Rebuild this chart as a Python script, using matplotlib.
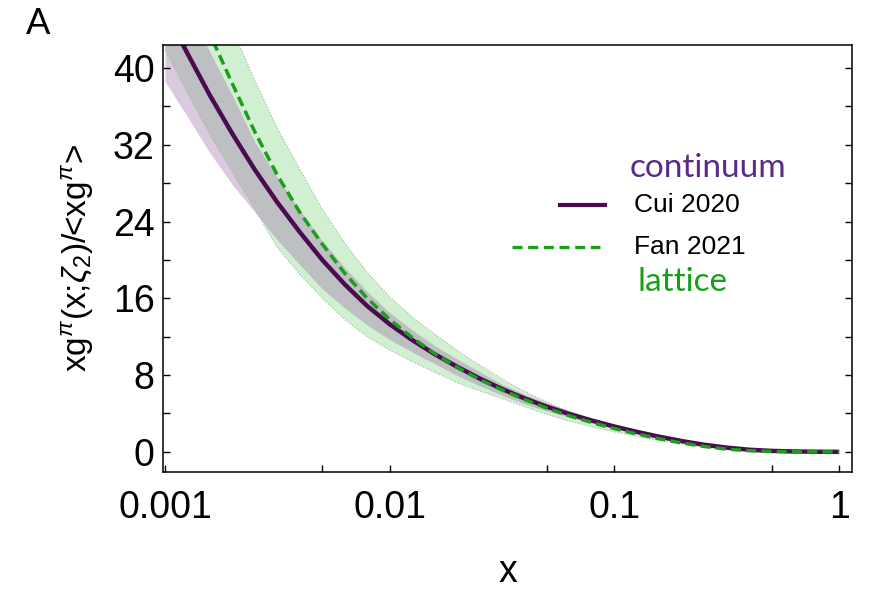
import numpy as np
import matplotlib
matplotlib.use("Agg")
import matplotlib.pyplot as plt
from matplotlib.lines import Line2D
from matplotlib.ticker import FixedLocator, NullFormatter

plt.rcParams['font.family'] = ['Liberation Sans', 'DejaVu Sans']
plt.rcParams['mathtext.fontset'] = 'custom'
plt.rcParams['mathtext.rm'] = 'Liberation Sans'
plt.rcParams['mathtext.it'] = 'Liberation Sans:italic'

# momentum fraction grid (tenth-decade steps)
x = [0.001, 0.00126, 0.00158, 0.002, 0.00251, 0.00316, 0.00398, 0.00501,
     0.00631, 0.00794, 0.01, 0.0126, 0.0158, 0.02, 0.0251, 0.0316, 0.0398,
     0.0501, 0.0631, 0.0794, 0.1, 0.126, 0.158, 0.2, 0.251, 0.316, 0.398,
     0.501, 0.631, 0.794, 1.0]

# continuum result (Cui 2020): central value and band
cui = [46.0, 41.5, 37.2, 33.1, 29.4, 26.0, 22.9, 20.0, 17.45, 15.2,
       13.3, 11.65, 10.2, 8.85, 7.65, 6.55, 5.57, 4.7, 3.94, 3.26,
       2.64, 2.08, 1.58, 1.12, 0.74, 0.44, 0.22, 0.10, 0.04, 0.01, 0.0]
cui_lo = [38.6, 34.9, 31.2, 27.8, 25.0, 22.1, 19.5, 17.0, 15.0, 13.2,
          11.7, 10.4, 9.2, 7.95, 6.9, 5.9, 5.0, 4.25, 3.6, 3.0,
          2.43, 1.91, 1.45, 1.03, 0.68, 0.4, 0.2, 0.09, 0.035, 0.008, 0.0]
cui_hi = [51.5, 46.5, 41.7, 37.1, 32.3, 28.6, 25.2, 22.0, 19.2, 16.7,
          14.5, 12.7, 11.1, 9.65, 8.35, 7.05, 6.0, 5.1, 4.25, 3.5,
          2.85, 2.23, 1.69, 1.2, 0.79, 0.47, 0.235, 0.107, 0.043, 0.011, 0.0]

# lattice result (Fan 2021): central value and band
fan = [55.1, 49.2, 43.6, 38.3, 33.35, 28.85, 24.95, 21.65, 18.6, 16.0,
       13.8, 11.9, 10.25, 8.8, 7.55, 6.45, 5.45, 4.55, 3.75, 3.05,
       2.42, 1.86, 1.36, 0.92, 0.56, 0.28, 0.12, 0.04, 0.01, 0.0, 0.0]
fan_lo = [41.9, 37.4, 33.1, 29.1, 25.3, 21.3, 18.5, 16.0, 13.8, 12.0,
          10.6, 9.4, 8.3, 7.2, 6.35, 5.55, 4.7, 3.9, 3.2, 2.6,
          2.08, 1.64, 1.2, 0.81, 0.49, 0.25, 0.105, 0.035, 0.009, 0.0, 0.0]
fan_hi = [63.4, 56.6, 50.1, 44.0, 38.7, 33.75, 29.45, 25.3, 21.75, 18.7,
          16.15, 14.05, 12.3, 10.55, 9.05, 7.6, 6.3, 5.2, 4.2, 3.4,
          2.7, 2.05, 1.5, 1.01, 0.62, 0.31, 0.13, 0.044, 0.011, 0.0, 0.0]

xticks = [0.001, 0.01, 0.1, 1]
xtick_labels = ['0.001', '0.01', '0.1', '1']
yticks = [0, 8, 16, 24, 32, 40]

purple = '#4a0b4f'
green = '#1b9e1b'

fig = plt.figure(figsize=(8.69, 5.90), dpi=100)
ax = fig.add_axes([0.1876, 0.2, 0.7928, 0.7237])

# bands
ax.fill_between(x, fan_lo, fan_hi, color=(0.55, 0.85, 0.55), alpha=0.4, lw=0)
ax.plot(x, fan_lo, color='#a0b8a0', lw=0.8, ls=':')
ax.plot(x, fan_hi, color='#a0b8a0', lw=0.8, ls=':')
ax.fill_between(x, cui_lo, cui_hi, color=(0.6, 0.4, 0.65), alpha=0.35, lw=0)

# central curves
ax.plot(x, cui, color=purple, lw=3.2, solid_capstyle='butt')
ax.plot(x, fan, color=green, lw=2.5, dashes=(2.9, 1.5))

ax.set_xscale('log')
ax.set_xlim(0.00098, 1.14)
ax.set_ylim(-2.1, 42.4)

ax.xaxis.set_major_locator(FixedLocator(xticks))
ax.set_xticklabels(xtick_labels)
ax.xaxis.set_minor_locator(FixedLocator([0.005, 0.05, 0.5]))
ax.xaxis.set_minor_formatter(NullFormatter())
ax.yaxis.set_major_locator(FixedLocator(yticks))
ax.yaxis.set_minor_locator(FixedLocator([4, 12, 20, 28, 36]))

ax.tick_params(axis='both', which='both', direction='in', length=5, width=1.0,
               labelsize=27, right=True)
ax.tick_params(axis='x', which='both', pad=13)
ax.tick_params(axis='y', which='both', pad=6)
for s in ax.spines.values():
    s.set_linewidth(1.1)

ax.set_xlabel('x', fontsize=27, labelpad=20)
ax.set_ylabel(r'xg$^{\pi}$(x;$\zeta_2$)/<xg$^{\pi}$>', fontsize=24, labelpad=12)

# legend keys
ax.add_line(Line2D([0.576, 0.642], [0.625, 0.625], transform=ax.transAxes,
                   color=purple, lw=3.0))
ax.add_line(Line2D([0.507, 0.634], [0.527, 0.527], transform=ax.transAxes,
                   color=green, lw=2.4, dashes=(3.0, 1.7)))
ax.text(0.684, 0.625, 'Cui 2020', transform=ax.transAxes, fontsize=19,
        va='center', ha='left')
ax.text(0.684, 0.527, 'Fan 2021', transform=ax.transAxes, fontsize=19,
        va='center', ha='left')
ax.text(0.677, 0.712, 'continuum', transform=ax.transAxes, fontsize=24,
        va='center', ha='left', color='#5b2a86', family='Lato')
ax.text(0.688, 0.445, 'lattice', transform=ax.transAxes, fontsize=24,
        va='center', ha='left', color='#179f17', family='Lato')

fig.text(0.030, 0.960, 'A', fontsize=26, va='center', ha='left', family='Lato')

fig.savefig('out.png', dpi=100)
